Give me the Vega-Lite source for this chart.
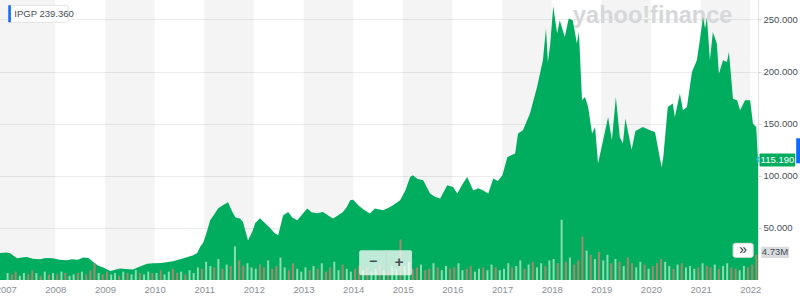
{
  "$schema": "https://vega.github.io/schema/vega-lite/v6.json",
  "width": 758,
  "height": 280,
  "autosize": "none",
  "padding": {"left": 0, "top": 0, "right": 42, "bottom": 28},
  "background": "white",
  "config": {"view": {"stroke": null}, "scale": {"continuousPadding": 0}},
  "datasets": {
    "bands": [
      {"s": "2006-11-20", "e": "2008-01-01"},
      {"s": "2009-01-01", "e": "2010-01-01"},
      {"s": "2011-01-01", "e": "2012-01-01"},
      {"s": "2013-01-01", "e": "2014-01-01"},
      {"s": "2015-01-01", "e": "2016-01-01"},
      {"s": "2017-01-01", "e": "2018-01-01"},
      {"s": "2019-01-01", "e": "2020-01-01"},
      {"s": "2021-01-01", "e": "2022-01-01"}
    ],
    "price": [
      {"d": "2006-11-20", "p": 26}, {"d": "2007-01-05", "p": 26.5}, {"d": "2007-02-03", "p": 25.6},
      {"d": "2007-03-25", "p": 20.8}, {"d": "2007-05-01", "p": 21.5}, {"d": "2007-06-06", "p": 22},
      {"d": "2007-07-20", "p": 20.5}, {"d": "2007-09-12", "p": 19.9}, {"d": "2007-10-20", "p": 21},
      {"d": "2007-12-15", "p": 20.8}, {"d": "2008-02-01", "p": 19.5}, {"d": "2008-03-27", "p": 19},
      {"d": "2008-05-03", "p": 20}, {"d": "2008-06-15", "p": 19.5}, {"d": "2008-07-25", "p": 21.5},
      {"d": "2008-09-01", "p": 21}, {"d": "2008-10-06", "p": 17.3}, {"d": "2008-11-10", "p": 14},
      {"d": "2008-12-18", "p": 11.9}, {"d": "2009-02-09", "p": 8.7}, {"d": "2009-03-10", "p": 9.5},
      {"d": "2009-04-21", "p": 11}, {"d": "2009-06-01", "p": 10.5}, {"d": "2009-07-25", "p": 10},
      {"d": "2009-09-15", "p": 13}, {"d": "2009-11-06", "p": 15.7}, {"d": "2009-12-20", "p": 16},
      {"d": "2010-02-12", "p": 16.3}, {"d": "2010-03-30", "p": 17}, {"d": "2010-05-16", "p": 18},
      {"d": "2010-07-21", "p": 20.5}, {"d": "2010-10-12", "p": 23.7}, {"d": "2010-11-10", "p": 26},
      {"d": "2010-12-01", "p": 31.7}, {"d": "2010-12-25", "p": 36}, {"d": "2011-01-20", "p": 46},
      {"d": "2011-02-13", "p": 57.3}, {"d": "2011-03-10", "p": 62}, {"d": "2011-04-12", "p": 68.5},
      {"d": "2011-05-18", "p": 71.7}, {"d": "2011-06-25", "p": 74.5}, {"d": "2011-07-10", "p": 70},
      {"d": "2011-08-01", "p": 64}, {"d": "2011-08-20", "p": 60}, {"d": "2011-09-21", "p": 59},
      {"d": "2011-10-13", "p": 55.7}, {"d": "2011-11-19", "p": 38}, {"d": "2011-12-25", "p": 47.7},
      {"d": "2012-01-10", "p": 54.4}, {"d": "2012-02-15", "p": 59.2}, {"d": "2012-03-20", "p": 55},
      {"d": "2012-05-01", "p": 49.6}, {"d": "2012-06-01", "p": 45}, {"d": "2012-06-28", "p": 42.9},
      {"d": "2012-08-03", "p": 62}, {"d": "2012-09-10", "p": 65.3}, {"d": "2012-10-10", "p": 60},
      {"d": "2012-11-15", "p": 57.3}, {"d": "2013-01-28", "p": 68.5}, {"d": "2013-03-01", "p": 65},
      {"d": "2013-04-10", "p": 64}, {"d": "2013-05-24", "p": 65.3}, {"d": "2013-07-01", "p": 62},
      {"d": "2013-08-06", "p": 58.9}, {"d": "2013-09-10", "p": 62}, {"d": "2013-10-18", "p": 65.3},
      {"d": "2013-11-15", "p": 70}, {"d": "2013-12-10", "p": 76.5}, {"d": "2014-01-01", "p": 77},
      {"d": "2014-02-07", "p": 71.7}, {"d": "2014-03-15", "p": 68}, {"d": "2014-05-04", "p": 63.7},
      {"d": "2014-06-10", "p": 68.5}, {"d": "2014-08-09", "p": 66.9}, {"d": "2014-09-15", "p": 69},
      {"d": "2014-10-21", "p": 71.7}, {"d": "2014-12-12", "p": 76.5}, {"d": "2015-01-20", "p": 86},
      {"d": "2015-02-24", "p": 98.8}, {"d": "2015-03-16", "p": 100.5}, {"d": "2015-04-20", "p": 97},
      {"d": "2015-05-31", "p": 95.7}, {"d": "2015-07-21", "p": 82.9}, {"d": "2015-08-25", "p": 80},
      {"d": "2015-10-03", "p": 78.1}, {"d": "2015-11-24", "p": 90.9}, {"d": "2016-01-06", "p": 89.3},
      {"d": "2016-02-06", "p": 82.9}, {"d": "2016-03-15", "p": 92}, {"d": "2016-04-19", "p": 98.8},
      {"d": "2016-06-03", "p": 86}, {"d": "2016-07-10", "p": 88}, {"d": "2016-08-15", "p": 86},
      {"d": "2016-09-21", "p": 83}, {"d": "2016-10-28", "p": 97.3}, {"d": "2016-12-01", "p": 95},
      {"d": "2017-01-03", "p": 100.5}, {"d": "2017-02-09", "p": 118}, {"d": "2017-04-07", "p": 121.3},
      {"d": "2017-04-28", "p": 140.5}, {"d": "2017-06-03", "p": 143.7}, {"d": "2017-07-25", "p": 159.7},
      {"d": "2017-09-15", "p": 185.2}, {"d": "2017-10-28", "p": 210.8}, {"d": "2017-11-20", "p": 241.3},
      {"d": "2017-12-04", "p": 209.2}, {"d": "2017-12-20", "p": 225}, {"d": "2018-01-12", "p": 262.7},
      {"d": "2018-02-10", "p": 236.5}, {"d": "2018-03-01", "p": 249.2}, {"d": "2018-04-07", "p": 233.2},
      {"d": "2018-05-06", "p": 250.9}, {"d": "2018-06-05", "p": 249.2}, {"d": "2018-07-05", "p": 226.9},
      {"d": "2018-07-20", "p": 238}, {"d": "2018-08-12", "p": 172.5}, {"d": "2018-09-03", "p": 175.6},
      {"d": "2018-09-26", "p": 166}, {"d": "2018-10-25", "p": 140.5}, {"d": "2018-11-16", "p": 146.8},
      {"d": "2018-12-08", "p": 111.7}, {"d": "2019-01-14", "p": 134}, {"d": "2019-02-20", "p": 156.4},
      {"d": "2019-03-20", "p": 134}, {"d": "2019-04-18", "p": 175.6}, {"d": "2019-05-17", "p": 137},
      {"d": "2019-06-09", "p": 130.9}, {"d": "2019-06-27", "p": 155}, {"d": "2019-08-12", "p": 125},
      {"d": "2019-09-09", "p": 143}, {"d": "2019-11-03", "p": 146.8}, {"d": "2019-12-24", "p": 143.7},
      {"d": "2020-01-31", "p": 142}, {"d": "2020-03-20", "p": 108}, {"d": "2020-04-01", "p": 118},
      {"d": "2020-05-04", "p": 166}, {"d": "2020-06-10", "p": 169.3}, {"d": "2020-06-25", "p": 156.4},
      {"d": "2020-08-01", "p": 178.9}, {"d": "2020-08-24", "p": 162.9}, {"d": "2020-09-22", "p": 166},
      {"d": "2020-10-29", "p": 199.6}, {"d": "2020-12-04", "p": 210.8}, {"d": "2020-12-26", "p": 230},
      {"d": "2021-01-18", "p": 252.4}, {"d": "2021-02-03", "p": 241.3}, {"d": "2021-02-16", "p": 252.4},
      {"d": "2021-03-10", "p": 210.8}, {"d": "2021-04-01", "p": 238}, {"d": "2021-04-30", "p": 226.9},
      {"d": "2021-05-15", "p": 198}, {"d": "2021-06-15", "p": 210.8}, {"d": "2021-07-13", "p": 209.2},
      {"d": "2021-07-28", "p": 218.8}, {"d": "2021-08-27", "p": 174}, {"d": "2021-09-26", "p": 172.5},
      {"d": "2021-10-18", "p": 162.9}, {"d": "2021-11-24", "p": 172.5}, {"d": "2021-12-31", "p": 172.5},
      {"d": "2022-01-21", "p": 150}, {"d": "2022-02-14", "p": 146.8}, {"d": "2022-02-27", "p": 115.19}
    ],
    "volume": [
      {"d": "2007-01-15", "v": 0.5, "u": 1}, {"d": "2007-02-15", "v": 0.4, "u": 0}, {"d": "2007-03-15", "v": 0.6, "u": 0}, {"d": "2007-04-15", "v": 0.3, "u": 1}, {"d": "2007-05-15", "v": 0.5, "u": 1}, {"d": "2007-06-15", "v": 0.4, "u": 0}, {"d": "2007-07-15", "v": 0.7, "u": 0}, {"d": "2007-08-15", "v": 0.5, "u": 1}, {"d": "2007-09-15", "v": 0.3, "u": 0}, {"d": "2007-10-15", "v": 0.6, "u": 1}, {"d": "2007-11-15", "v": 0.4, "u": 0}, {"d": "2007-12-15", "v": 0.5, "u": 1},
      {"d": "2008-01-15", "v": 0.4, "u": 0}, {"d": "2008-02-15", "v": 0.6, "u": 1}, {"d": "2008-03-15", "v": 0.5, "u": 0}, {"d": "2008-04-15", "v": 0.3, "u": 1}, {"d": "2008-05-15", "v": 0.4, "u": 1}, {"d": "2008-06-15", "v": 0.5, "u": 0}, {"d": "2008-07-15", "v": 0.6, "u": 1}, {"d": "2008-08-15", "v": 0.4, "u": 0}, {"d": "2008-09-15", "v": 0.7, "u": 0}, {"d": "2008-10-15", "v": 1.2, "u": 0}, {"d": "2008-11-15", "v": 0.5, "u": 1}, {"d": "2008-12-15", "v": 0.4, "u": 0},
      {"d": "2009-01-15", "v": 0.6, "u": 0}, {"d": "2009-02-15", "v": 0.4, "u": 1}, {"d": "2009-03-15", "v": 0.5, "u": 1}, {"d": "2009-04-15", "v": 0.3, "u": 0}, {"d": "2009-05-15", "v": 0.6, "u": 1}, {"d": "2009-06-15", "v": 0.5, "u": 0}, {"d": "2009-07-15", "v": 0.4, "u": 1}, {"d": "2009-08-15", "v": 0.7, "u": 1}, {"d": "2009-09-15", "v": 0.5, "u": 0}, {"d": "2009-10-15", "v": 0.4, "u": 1}, {"d": "2009-11-15", "v": 0.6, "u": 1}, {"d": "2009-12-15", "v": 0.5, "u": 0},
      {"d": "2010-01-15", "v": 0.5, "u": 1}, {"d": "2010-02-15", "v": 0.7, "u": 0}, {"d": "2010-03-15", "v": 0.4, "u": 1}, {"d": "2010-04-15", "v": 0.6, "u": 1}, {"d": "2010-05-15", "v": 0.8, "u": 0}, {"d": "2010-06-15", "v": 0.5, "u": 0}, {"d": "2010-07-15", "v": 0.6, "u": 1}, {"d": "2010-08-15", "v": 0.4, "u": 0}, {"d": "2010-09-15", "v": 0.7, "u": 1}, {"d": "2010-10-15", "v": 0.5, "u": 1}, {"d": "2010-11-15", "v": 0.9, "u": 1}, {"d": "2010-12-15", "v": 0.8, "u": 0},
      {"d": "2011-01-15", "v": 1.3, "u": 1}, {"d": "2011-02-15", "v": 1.0, "u": 1}, {"d": "2011-03-15", "v": 0.9, "u": 0}, {"d": "2011-04-15", "v": 1.5, "u": 1}, {"d": "2011-05-15", "v": 0.8, "u": 0}, {"d": "2011-06-15", "v": 1.1, "u": 1}, {"d": "2011-07-15", "v": 1.0, "u": 0}, {"d": "2011-08-15", "v": 2.4, "u": 1}, {"d": "2011-09-15", "v": 1.4, "u": 0}, {"d": "2011-10-15", "v": 1.0, "u": 0}, {"d": "2011-11-15", "v": 1.2, "u": 1}, {"d": "2011-12-15", "v": 0.9, "u": 1},
      {"d": "2012-01-15", "v": 0.8, "u": 1}, {"d": "2012-02-15", "v": 1.1, "u": 0}, {"d": "2012-03-15", "v": 0.9, "u": 0}, {"d": "2012-04-15", "v": 1.4, "u": 1}, {"d": "2012-05-15", "v": 0.8, "u": 0}, {"d": "2012-06-15", "v": 1.0, "u": 0}, {"d": "2012-07-15", "v": 1.6, "u": 1}, {"d": "2012-08-15", "v": 0.9, "u": 1}, {"d": "2012-09-15", "v": 0.7, "u": 0}, {"d": "2012-10-15", "v": 1.2, "u": 0}, {"d": "2012-11-15", "v": 0.8, "u": 1}, {"d": "2012-12-15", "v": 0.6, "u": 1},
      {"d": "2013-01-15", "v": 0.9, "u": 1}, {"d": "2013-02-15", "v": 0.7, "u": 0}, {"d": "2013-03-15", "v": 1.0, "u": 1}, {"d": "2013-04-15", "v": 0.8, "u": 0}, {"d": "2013-05-15", "v": 1.2, "u": 1}, {"d": "2013-06-15", "v": 0.6, "u": 0}, {"d": "2013-07-15", "v": 0.9, "u": 0}, {"d": "2013-08-15", "v": 1.3, "u": 1}, {"d": "2013-09-15", "v": 0.7, "u": 1}, {"d": "2013-10-15", "v": 1.1, "u": 0}, {"d": "2013-11-15", "v": 0.8, "u": 1}, {"d": "2013-12-15", "v": 0.6, "u": 1},
      {"d": "2014-01-15", "v": 0.8, "u": 0}, {"d": "2014-02-15", "v": 1.0, "u": 0}, {"d": "2014-03-15", "v": 0.7, "u": 1}, {"d": "2014-04-15", "v": 0.9, "u": 0}, {"d": "2014-05-15", "v": 0.6, "u": 1}, {"d": "2014-06-15", "v": 0.8, "u": 1}, {"d": "2014-07-15", "v": 1.1, "u": 0}, {"d": "2014-08-15", "v": 0.7, "u": 1}, {"d": "2014-09-15", "v": 0.6, "u": 0}, {"d": "2014-10-15", "v": 1.0, "u": 1}, {"d": "2014-11-15", "v": 0.8, "u": 1}, {"d": "2014-12-15", "v": 2.9, "u": 0},
      {"d": "2015-01-15", "v": 1.0, "u": 1}, {"d": "2015-02-15", "v": 1.3, "u": 1}, {"d": "2015-03-15", "v": 0.8, "u": 0}, {"d": "2015-04-15", "v": 0.9, "u": 0}, {"d": "2015-05-15", "v": 1.1, "u": 1}, {"d": "2015-06-15", "v": 0.7, "u": 0}, {"d": "2015-07-15", "v": 0.8, "u": 0}, {"d": "2015-08-15", "v": 1.2, "u": 1}, {"d": "2015-09-15", "v": 0.9, "u": 0}, {"d": "2015-10-15", "v": 0.7, "u": 1}, {"d": "2015-11-15", "v": 1.0, "u": 1}, {"d": "2015-12-15", "v": 0.8, "u": 0},
      {"d": "2016-01-15", "v": 0.9, "u": 0}, {"d": "2016-02-15", "v": 1.2, "u": 1}, {"d": "2016-03-15", "v": 0.7, "u": 1}, {"d": "2016-04-15", "v": 0.8, "u": 0}, {"d": "2016-05-15", "v": 1.0, "u": 0}, {"d": "2016-06-15", "v": 0.6, "u": 1}, {"d": "2016-07-15", "v": 0.8, "u": 1}, {"d": "2016-08-15", "v": 0.9, "u": 0}, {"d": "2016-09-15", "v": 0.7, "u": 1}, {"d": "2016-10-15", "v": 1.1, "u": 1}, {"d": "2016-11-15", "v": 0.9, "u": 0}, {"d": "2016-12-15", "v": 0.7, "u": 1},
      {"d": "2017-01-15", "v": 0.8, "u": 1}, {"d": "2017-02-15", "v": 1.2, "u": 1}, {"d": "2017-03-15", "v": 0.9, "u": 0}, {"d": "2017-04-15", "v": 1.0, "u": 1}, {"d": "2017-05-15", "v": 1.4, "u": 1}, {"d": "2017-06-15", "v": 0.8, "u": 0}, {"d": "2017-07-15", "v": 1.1, "u": 1}, {"d": "2017-08-15", "v": 1.3, "u": 0}, {"d": "2017-09-15", "v": 0.9, "u": 1}, {"d": "2017-10-15", "v": 1.2, "u": 1}, {"d": "2017-11-15", "v": 1.0, "u": 0}, {"d": "2017-12-15", "v": 1.4, "u": 1},
      {"d": "2018-01-15", "v": 1.5, "u": 1}, {"d": "2018-02-15", "v": 1.2, "u": 0}, {"d": "2018-03-15", "v": 4.3, "u": 1}, {"d": "2018-04-15", "v": 1.3, "u": 0}, {"d": "2018-05-15", "v": 1.6, "u": 1}, {"d": "2018-06-15", "v": 1.1, "u": 0}, {"d": "2018-07-15", "v": 1.4, "u": 0}, {"d": "2018-08-15", "v": 3.1, "u": 0}, {"d": "2018-09-15", "v": 2.1, "u": 1}, {"d": "2018-10-15", "v": 1.8, "u": 0}, {"d": "2018-11-15", "v": 1.5, "u": 1}, {"d": "2018-12-15", "v": 2.0, "u": 0},
      {"d": "2019-01-15", "v": 1.4, "u": 1}, {"d": "2019-02-15", "v": 1.8, "u": 1}, {"d": "2019-03-15", "v": 1.2, "u": 0}, {"d": "2019-04-15", "v": 1.5, "u": 1}, {"d": "2019-05-15", "v": 1.3, "u": 0}, {"d": "2019-06-15", "v": 1.0, "u": 1}, {"d": "2019-07-15", "v": 1.6, "u": 0}, {"d": "2019-08-15", "v": 1.2, "u": 0}, {"d": "2019-09-15", "v": 0.9, "u": 1}, {"d": "2019-10-15", "v": 1.3, "u": 1}, {"d": "2019-11-15", "v": 1.1, "u": 0}, {"d": "2019-12-15", "v": 0.8, "u": 1},
      {"d": "2020-01-15", "v": 1.0, "u": 0}, {"d": "2020-02-15", "v": 1.2, "u": 0}, {"d": "2020-03-15", "v": 1.5, "u": 0}, {"d": "2020-04-15", "v": 1.3, "u": 1}, {"d": "2020-05-15", "v": 1.0, "u": 1}, {"d": "2020-06-15", "v": 0.8, "u": 0}, {"d": "2020-07-15", "v": 1.1, "u": 1}, {"d": "2020-08-15", "v": 1.2, "u": 0}, {"d": "2020-09-15", "v": 0.9, "u": 1}, {"d": "2020-10-15", "v": 1.0, "u": 1}, {"d": "2020-11-15", "v": 0.8, "u": 1}, {"d": "2020-12-15", "v": 0.9, "u": 0},
      {"d": "2021-01-15", "v": 1.2, "u": 1}, {"d": "2021-02-15", "v": 1.0, "u": 0}, {"d": "2021-03-15", "v": 0.9, "u": 0}, {"d": "2021-04-15", "v": 1.1, "u": 1}, {"d": "2021-05-15", "v": 0.8, "u": 0}, {"d": "2021-06-15", "v": 1.0, "u": 1}, {"d": "2021-07-15", "v": 1.2, "u": 1}, {"d": "2021-08-15", "v": 0.9, "u": 0}, {"d": "2021-09-15", "v": 0.8, "u": 0}, {"d": "2021-10-15", "v": 0.7, "u": 1}, {"d": "2021-11-15", "v": 1.0, "u": 1}, {"d": "2021-12-15", "v": 0.9, "u": 0},
      {"d": "2022-01-15", "v": 1.1, "u": 0}, {"d": "2022-02-15", "v": 1.8, "u": 0}
    ]
  },
  "layer": [
    {
      "layer": [
        {
          "data": {"name": "bands"},
          "mark": {"type": "rect", "fill": "#000000", "opacity": 0.045},
          "encoding": {
            "x": {
              "field": "s", "type": "temporal",
              "scale": {"domain": ["2006-11-20", "2022-02-27"], "padding": 0},
              "axis": {
                "format": "%Y", "tickCount": {"interval": "year", "step": 1},
                "grid": false, "domain": false, "ticks": false, "title": null,
                "labelColor": "#8a8f95", "labelFont": "Liberation Sans", "labelFontSize": 9.5,
                "labelPadding": 4, "labelFlush": false, "labelOverlap": false
              }
            },
            "x2": {"field": "e"}
          }
        },
        {
          "data": {"values": [{"k": 1}]},
          "mark": {"type": "text", "text": "yahoo!finance", "font": "Liberation Sans", "fontWeight": "bold", "fontSize": 23.5, "fill": "#d6d7da", "align": "center", "baseline": "alphabetic"},
          "encoding": {
            "x": {"datum": {"year": 2020, "month": 1, "date": 14}, "type": "temporal"},
            "y": {"datum": 246.4, "type": "quantitative"}
          }
        },
        {
          "data": {"name": "price"},
          "mark": {"type": "area", "color": "#00ad5f", "interpolate": "linear"},
          "encoding": {
            "x": {"field": "d", "type": "temporal"},
            "y": {
              "field": "p", "type": "quantitative",
              "scale": {"domain": [0, 268.7], "nice": false, "zero": true},
              "axis": {
                "orient": "right", "values": [50, 100, 150, 200, 250], "format": ".3f",
                "grid": true, "gridColor": "#ececec", "domainColor": "#e2e2e2",
                "tickColor": "#cfcfcf", "tickSize": 3, "labelColor": "#464e56",
                "labelFont": "Liberation Sans", "labelFontSize": 9.5, "labelPadding": 2, "title": null
              }
            }
          }
        }
      ]
    },
    {
      "data": {"name": "volume"},
      "mark": {"type": "bar", "width": 2},
      "encoding": {
        "x": {"field": "d", "type": "temporal", "scale": {"padding": 0}},
        "y": {"field": "v", "type": "quantitative", "scale": {"domain": [0, 20], "nice": false}, "axis": null},
        "color": {
          "field": "u", "type": "nominal",
          "scale": {"domain": [1, 0], "range": ["#8adbad", "#a4896c"]},
          "legend": null
        }
      }
    },
    {
      "data": {"values": [{"k": 1}]},
      "layer": [
        {
          "mark": {"type": "rect", "fill": "white", "stroke": "#e3e3e3", "strokeWidth": 1, "cornerRadius": 2},
          "encoding": {
            "x": {"datum": {"year": 2007, "month": 1, "date": 20}, "type": "temporal"},
            "x2": {"datum": {"year": 2008, "month": 4, "date": 5}},
            "y": {"datum": 263.6, "type": "quantitative", "scale": {"domain": [0, 268.7], "nice": false}, "axis": null},
            "y2": {"datum": 247.3}
          }
        },
        {
          "mark": {"type": "rect", "fill": "#0f69ff"},
          "encoding": {
            "x": {"datum": {"year": 2007, "month": 1, "date": 20}, "type": "temporal"},
            "x2": {"datum": {"year": 2007, "month": 2, "date": 8}},
            "y": {"datum": 263.6, "type": "quantitative"},
            "y2": {"datum": 247.3}
          }
        },
        {
          "mark": {"type": "text", "text": "IPGP  239.360", "font": "Liberation Sans", "fontSize": 9.5, "fill": "#464e56", "align": "left", "baseline": "middle"},
          "encoding": {
            "x": {"datum": {"year": 2007, "month": 3, "date": 5}, "type": "temporal"},
            "y": {"datum": 255.2, "type": "quantitative"}
          }
        },
        {
          "mark": {"type": "rect", "fill": "white", "opacity": 0.75, "cornerRadius": 2},
          "encoding": {
            "x": {"datum": {"year": 2014, "month": 2, "date": 14}, "type": "temporal"},
            "x2": {"datum": {"year": 2015, "month": 3, "date": 10}},
            "y": {"datum": 28.5, "type": "quantitative"},
            "y2": {"datum": 4.5}
          }
        },
        {
          "mark": {"type": "rule", "stroke": "#c8d8cf", "strokeWidth": 1},
          "encoding": {
            "x": {"datum": {"year": 2014, "month": 9, "date": 1}, "type": "temporal"},
            "y": {"datum": 28.5, "type": "quantitative"},
            "y2": {"datum": 4.5}
          }
        },
        {
          "mark": {"type": "text", "text": "−", "font": "Liberation Sans", "fontWeight": "bold", "fontSize": 14, "fill": "#464e56", "align": "center", "baseline": "middle"},
          "encoding": {
            "x": {"datum": {"year": 2014, "month": 5, "date": 28}, "type": "temporal"},
            "y": {"datum": 17.5, "type": "quantitative"}
          }
        },
        {
          "mark": {"type": "text", "text": "+", "font": "Liberation Sans", "fontWeight": "bold", "fontSize": 15, "fill": "#464e56", "align": "center", "baseline": "middle"},
          "encoding": {
            "x": {"datum": {"year": 2014, "month": 12, "date": 6}, "type": "temporal"},
            "y": {"datum": 17.5, "type": "quantitative"}
          }
        },
        {
          "mark": {"type": "rect", "fill": "white", "stroke": "#e2e2e2", "cornerRadius": 2},
          "encoding": {
            "x": {"datum": {"year": 2021, "month": 8, "date": 28}, "type": "temporal"},
            "x2": {"datum": {"year": 2022, "month": 1, "date": 22}},
            "y": {"datum": 35.2, "type": "quantitative"},
            "y2": {"datum": 21.8}
          }
        },
        {
          "mark": {"type": "text", "text": "»", "font": "Liberation Sans", "fontSize": 14, "fill": "#232a31", "align": "center", "baseline": "middle"},
          "encoding": {
            "x": {"datum": {"year": 2021, "month": 11, "date": 10}, "type": "temporal"},
            "y": {"datum": 29, "type": "quantitative"}
          }
        },
        {
          "mark": {"type": "rect", "fill": "#d9dbde", "cornerRadius": 1},
          "encoding": {
            "x": {"datum": {"year": 2022, "month": 3, "date": 22}, "type": "temporal"},
            "x2": {"datum": {"year": 2022, "month": 10, "date": 13}},
            "y": {"datum": 32, "type": "quantitative"},
            "y2": {"datum": 21}
          }
        },
        {
          "mark": {"type": "text", "text": "4.73M", "font": "Liberation Sans", "fontSize": 9.5, "fill": "#464e56", "align": "center", "baseline": "middle"},
          "encoding": {
            "x": {"datum": {"year": 2022, "month": 7, "date": 2}, "type": "temporal"},
            "y": {"datum": 26.5, "type": "quantitative"}
          }
        },
        {
          "mark": {"type": "rect", "fill": "#0f69ff"},
          "encoding": {
            "x": {"datum": {"year": 2022, "month": 12, "date": 5}, "type": "temporal"},
            "x2": {"datum": {"year": 2023, "month": 1, "date": 10}},
            "y": {"datum": 136, "type": "quantitative"},
            "y2": {"datum": 112}
          }
        },
        {
          "mark": {"type": "rect", "fill": "#00ad5f", "cornerRadius": 1},
          "encoding": {
            "x": {"datum": {"year": 2022, "month": 3, "date": 10}, "type": "temporal"},
            "x2": {"datum": {"year": 2022, "month": 11, "date": 28}},
            "y": {"datum": 121.3, "type": "quantitative"},
            "y2": {"datum": 108.8}
          }
        },
        {
          "mark": {"type": "text", "text": "115.190", "font": "Liberation Sans", "fontSize": 9.5, "fill": "white", "align": "center", "baseline": "middle"},
          "encoding": {
            "x": {"datum": {"year": 2022, "month": 7, "date": 20}, "type": "temporal"},
            "y": {"datum": 115.19, "type": "quantitative"}
          }
        },
        {
          "mark": {"type": "text", "text": "‹", "font": "Liberation Sans", "fontWeight": "bold", "fontSize": 12, "fill": "#2fb8e8", "align": "center", "baseline": "middle"},
          "encoding": {
            "x": {"datum": {"year": 2022, "month": 2, "date": 27}, "type": "temporal"},
            "y": {"datum": 115.9, "type": "quantitative"}
          }
        }
      ]
    }
  ],
  "resolve": {"scale": {"y": "independent"}}
}
